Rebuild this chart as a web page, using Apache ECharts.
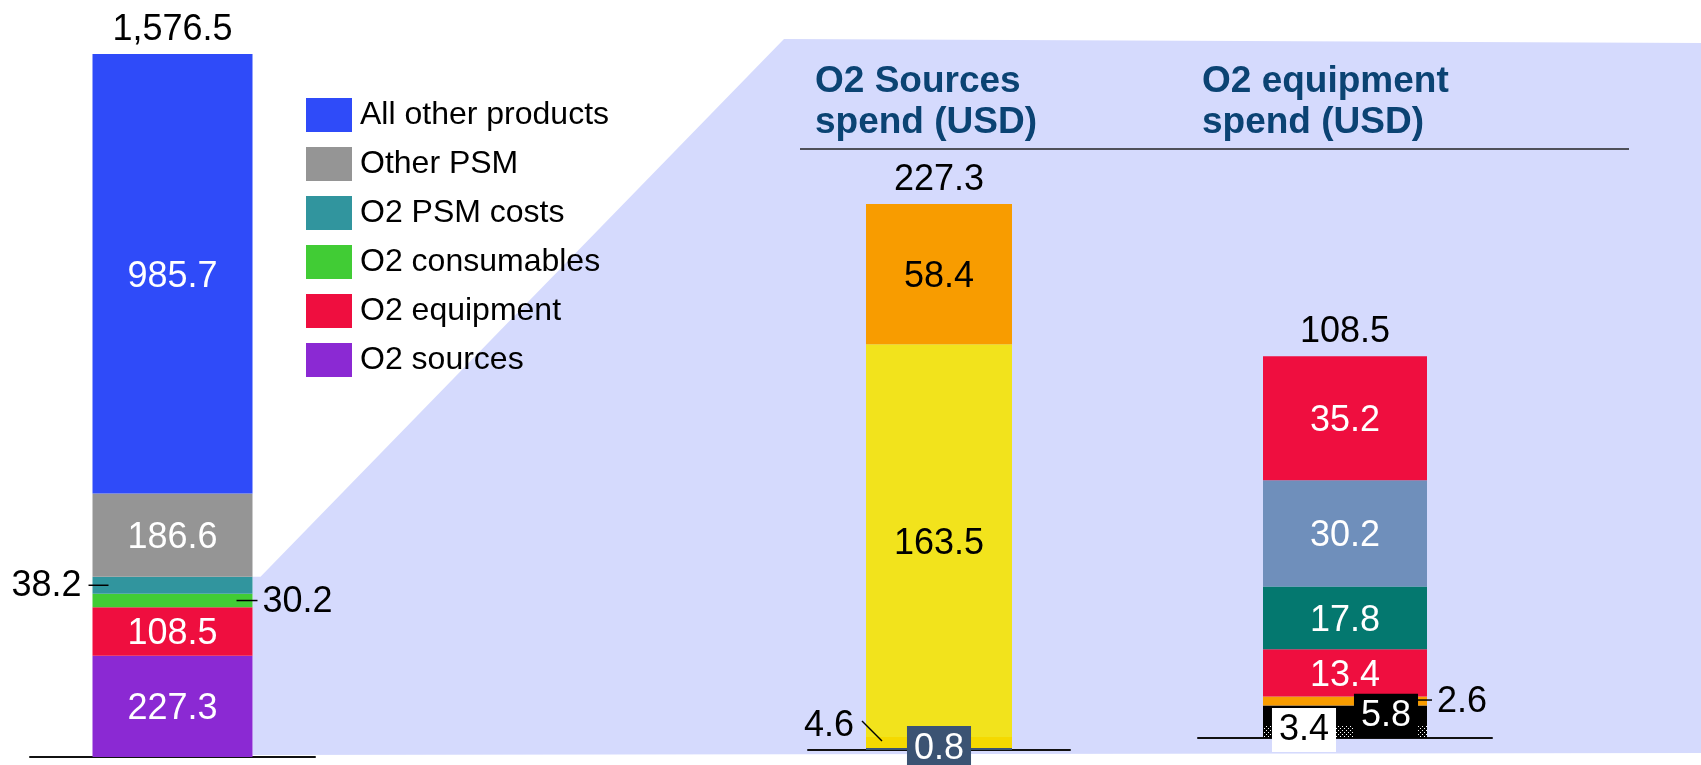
<!DOCTYPE html>
<html>
<head>
<meta charset="utf-8">
<title>O2 spend breakdown</title>
<script src="https://cdn.jsdelivr.net/npm/echarts@6/dist/echarts.min.js"></script>
<style>
html, body { margin: 0; padding: 0; background: #fff; }
#main { width: 1701px; height: 765px; }
</style>
</head>
<body>
<div id="main"></div>
<script>
// overall spend, stacked bottom -> top
const overviewNames = ['O2 sources', 'O2 equipment', 'O2 consumables', 'O2 PSM costs', 'Other PSM', 'All other products'];
const overviewValues = [227.3, 108.5, 30.2, 38.2, 186.6, 985.7];
const overviewTotal = 1576.5;

// O2 sources spend, bottom -> top
const sourcesNames = ['Sources 1', 'Sources 2', 'Sources 3', 'Sources 4'];
const sourcesValues = [0.8, 4.6, 163.5, 58.4];
const sourcesTotal = 227.3;

// O2 equipment spend, bottom -> top
const equipmentNames = ['Equipment 1', 'Equipment 2', 'Equipment 3', 'Equipment 4', 'Equipment 5', 'Equipment 6', 'Equipment 7'];
const equipmentValues = [3.4, 5.8, 2.6, 13.4, 17.8, 30.2, 35.2];
const equipmentTotal = 108.5;

const panelTitles = ['O2 Sources\nspend (USD)', 'O2 equipment\nspend (USD)'];

const FONT = '"Liberation Sans", Arial, sans-serif';

// dotted fill for the smallest equipment slice
const dots = document.createElement('canvas');
dots.width = 4; dots.height = 4;
const dctx = dots.getContext('2d');
dctx.fillStyle = '#000'; dctx.fillRect(0, 0, 4, 4);
dctx.fillStyle = '#fff'; dctx.fillRect(0, 0, 1, 1); dctx.fillRect(2, 2, 1, 1);

const overviewColors = ['#8b29d3', '#ef0e3f', '#41cc35', '#31959e', '#959595', '#2f4bf9'];
const sourcesColors = ['#3b5373', '#f5d900', '#f2e31c', '#f89c00'];
const equipmentColors = [{ image: dots, repeat: 'repeat' }, '#000', '#f89c00', '#ef0e3f', '#04786f', '#6f8fbb', '#ef0e3f'];

const fmt = v => v.toLocaleString('en-US', { minimumFractionDigits: 1, maximumFractionDigits: 1 });

function barLabel(extra) {
	return Object.assign({
		show: true, position: 'inside', offset: [0, 3], color: '#fff', fontSize: 36, fontFamily: FONT,
		formatter: p => fmt(p.value)
	}, extra || {});
}

// label tweaks per slice
const overviewLabels = [
	{}, {},
	{ position: 'right', distance: 10, offset: [0, 2], color: '#000' },
	{ position: 'left', distance: 11, offset: [0, 1], color: '#000' },
	{}, {}
];
const sourcesLabels = [
	{ backgroundColor: '#3b5373', padding: [5, 7], offset: [0, 0] },
	{ position: 'left', distance: 12, offset: [0, -16], color: '#000' },
	{ color: '#000' },
	{ color: '#000' }
];
const equipmentLabels = [
	{ backgroundColor: '#fff', color: '#000', padding: [4, 7], offset: [-41, -2] },
	{ backgroundColor: '#000', padding: [4, 7], offset: [41, 0] },
	{ position: 'right', distance: 10, offset: [0, 1], color: '#000' },
	{}, {}, {}, {}
];

function stackSeries(names, values, colors, labels, idx, width) {
	return names.map((name, i) => ({
		type: 'bar',
		name: name,
		stack: 'stack' + idx,
		xAxisIndex: idx,
		yAxisIndex: idx,
		barWidth: width,
		data: [values[i]],
		itemStyle: { color: colors[i] },
		label: barLabel(labels[i])
	}));
}

function totalSeries(total, idx) {
	return {
		type: 'scatter',
		xAxisIndex: idx,
		yAxisIndex: idx,
		symbolSize: 0,
		silent: true,
		itemStyle: { opacity: 1 },
		data: [total],
		label: { show: true, position: 'top', distance: 6, color: '#000', fontSize: 36, fontFamily: FONT, formatter: p => fmt(p.value) }
	};
}

const grids = [
	{ left: 30, width: 285, top: 54, height: 703 },
	{ left: 808, width: 262, top: 204, height: 546 },
	{ left: 1198, width: 294, top: 356, height: 382 }
];
const barWidths = [160, 146, 164];
const maxes = [overviewTotal, sourcesTotal, equipmentTotal];
const cats = [['Total'], ['O2 sources'], ['O2 equipment']];

const chart = echarts.init(document.getElementById('main'));

const option = {
	animation: false,
	backgroundColor: '#fff',
	title: panelTitles.map((t, i) => ({
		text: t,
		left: [815, 1202][i],
		top: 61,
		padding: 0,
		textStyle: { fontSize: 37, fontWeight: 'bold', color: '#0b4373', lineHeight: 41, fontFamily: FONT }
	})),
	legend: {
		data: overviewNames.slice().reverse(),
		orient: 'vertical',
		left: 306,
		top: 98,
		padding: 0,
		itemWidth: 46,
		itemHeight: 34,
		itemGap: 15,
		icon: 'rect',
		selectedMode: false,
		textStyle: { fontSize: 32, fontFamily: FONT, color: '#000', padding: [5, 0, 0, 3] }
	},
	grid: grids,
	xAxis: cats.map((c, i) => ({
		type: 'category', gridIndex: i, data: c,
		axisLine: { show: true, lineStyle: { color: '#111', width: 2 } },
		axisTick: { show: false }, axisLabel: { show: false }, splitLine: { show: false }
	})),
	yAxis: maxes.map((m, i) => ({
		type: 'value', gridIndex: i, min: 0, max: m, show: false, splitLine: { show: false }
	})),
	series: [].concat(
		stackSeries(overviewNames, overviewValues, overviewColors, overviewLabels, 0, barWidths[0]),
		stackSeries(sourcesNames, sourcesValues, sourcesColors, sourcesLabels, 1, barWidths[1]),
		stackSeries(equipmentNames, equipmentValues, equipmentColors, equipmentLabels, 2, barWidths[2]),
		[totalSeries(overviewTotal, 0), totalSeries(sourcesTotal, 1), totalSeries(equipmentTotal, 2)]
	)
};

chart.setOption(option);

// pixel box of one stacked slice
function slice(idx, values, i) {
	const below = values.slice(0, i).reduce((a, b) => a + b, 0);
	const lo = chart.convertToPixel({ gridIndex: idx }, [0, below]);
	const hi = chart.convertToPixel({ gridIndex: idx }, [0, below + values[i]]);
	const half = barWidths[idx] / 2;
	return { left: lo[0] - half, right: lo[0] + half, top: hi[1], bottom: lo[1] };
}

const psm = slice(0, overviewValues, 3);
const cons = slice(0, overviewValues, 2);
const src46 = slice(1, sourcesValues, 1);
const eq26 = slice(2, equipmentValues, 2);
const baseY = chart.convertToPixel({ gridIndex: 0 }, [0, 0])[1];

function leader(x1, y1, x2, y2) {
	return { type: 'line', silent: true, z: 50, shape: { x1, y1, x2, y2 }, style: { stroke: '#000', lineWidth: 1.5 } };
}

chart.setOption({
	graphic: [
		{
			// zoom wedge from the O2 slices to the detail panels
			type: 'polygon', z: -10, silent: true,
			shape: { points: [[psm.right, psm.top], [psm.right + 8, psm.top], [784, 39], [1701, 43], [1701, 753], [psm.right, baseY - 2]] },
			style: { fill: '#d5dafd' }
		},
		{
			type: 'line', silent: true,
			shape: { x1: 800, y1: 149, x2: 1629, y2: 149 },
			style: { stroke: '#222', lineWidth: 1.5 }
		},
		leader(psm.left - 4, (psm.top + psm.bottom) / 2, psm.left + 16, (psm.top + psm.bottom) / 2),
		leader(cons.right - 16, (cons.top + cons.bottom) / 2, cons.right + 5, (cons.top + cons.bottom) / 2),
		leader(src46.left - 4, src46.top - 16, src46.left + 16, src46.top + 4),
		leader(eq26.right - 9, (eq26.top + eq26.bottom) / 2 - 1, eq26.right + 5, (eq26.top + eq26.bottom) / 2 - 1)
	]
});
</script>
</body>
</html>
